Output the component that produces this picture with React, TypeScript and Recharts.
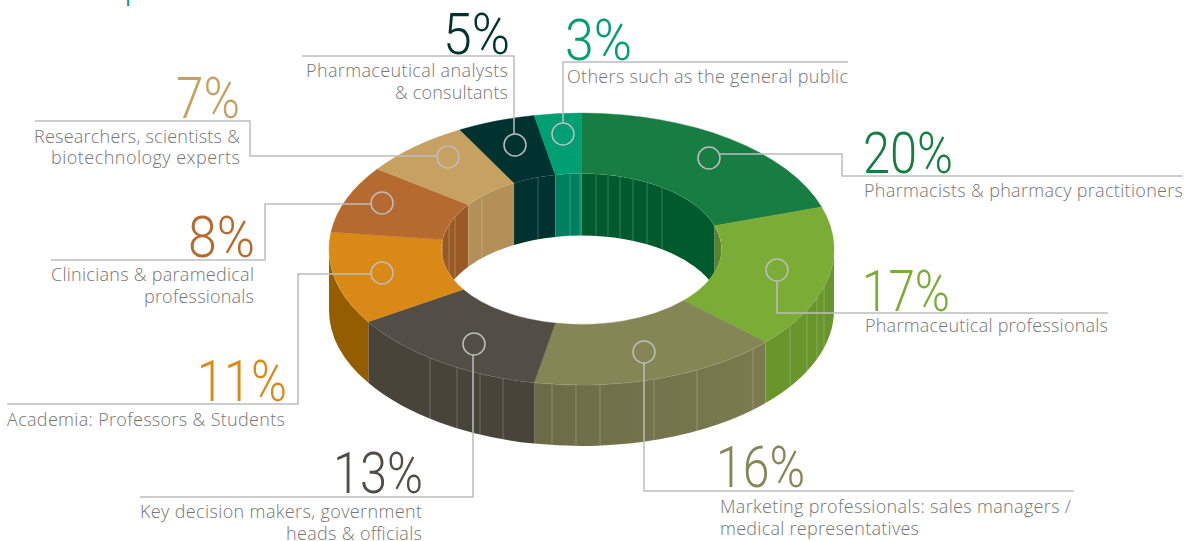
import React from 'react';
import { PieChart, Pie } from 'recharts';

const shares = [20, 17, 16, 13, 11, 8, 7, 5, 3];
const audience = [
  ['Pharmacists & pharmacy practitioners'],
  ['Pharmaceutical professionals'],
  ['Marketing professionals: sales managers /', 'medical representatives'],
  ['Key decision makers, government', 'heads & officials'],
  ['Academia: Professors & Students'],
  ['Clinicians & paramedical', 'professionals'],
  ['Researchers, scientists &', 'biotechnology experts'],
  ['Pharmaceutical analysts', '& consultants'],
  ['Others such as the general public'],
];

const topColors = ['#177d42', '#7bac36', '#858656', '#524d45', '#d98915', '#b56a2f', '#c6a162', '#00332f', '#009e73'];
const outerWallColors = ['#177d42', '#68952c', 'url(#oliveWall)', '#48443a', '#945e00', '#945e00', '#c6a162', '#00332f', '#009e73'];
const innerWallColors = ['#005b2c', '#5a8229', '#77784d', '#48443a', '#8f5c20', '#9a5a25', '#b29058', '#00332f', '#00805e'];

// seams on the extruded walls, by screen x
const outerSeams = [430, 457, 480, 503, 552, 576, 600, 654, 697, 753, 790, 807, 817, 824];
const innerSeams = [449, 455, 482, 538, 570, 580, 596, 608, 620, 633, 647, 662];

const W = 1186;
const H = 541;
const CX = 581.5;
const CY = 249;
const R_OUT = 252.5;
const R_IN = 140;
const SQUASH = 0.5386;
const DEPTH = 61;
const LEADER = '#bdbdbd';

const rows = shares.map((value, i) => ({ name: audience[i][0], value, i }));

// label layout: percent [x, baseline, width], leader path, marker, text lines [x, baseline, width, anchor]
const callouts = [
  { pct: [863, 173, 90], leader: '720,154 842,154 842,176 1183,176', dot: [709, 158], text: [[864, 197, 319, 'start']] },
  { pct: [862, 311, 88], leader: '777,281 777,313 1108,313', dot: [777, 270], text: [[865, 332, 243, 'start']] },
  { pct: [716, 487, 89], leader: '644,363 644,491 1074,491', dot: [644, 352], text: [[720, 513, 351, 'start'], [720, 535, 199, 'start']] },
  { pct: [333, 493, 90], leader: '473,355 473,497 140,497', dot: [474, 344], text: [[422, 518, 282, 'end'], [422, 540, 136, 'end']] },
  { pct: [197, 401, 90], leader: '371,274 298,274 298,404 7,404', dot: [382, 273], text: [[7, 426, 278, 'start']] },
  { pct: [188, 257, 67], leader: '371,204 265,204 265,260 51,260', dot: [382, 203], text: [[254, 281, 203, 'end'], [254, 303, 110, 'end']] },
  { pct: [176, 118, 64], leader: '437,156 250,156 250,121 35,121', dot: [448, 157], text: [[240, 143, 206, 'end'], [240, 164, 189, 'end']] },
  { pct: [443, 54, 67], leader: '514,134 514,56 302,56', dot: [515, 145], text: [[508, 77, 202, 'end'], [508, 99, 113, 'end']] },
  { pct: [565, 60, 67], leader: '563,123 563,62 848,62', dot: [563, 134], text: [[848, 83, 281, 'end']] },
];

const rad = (deg: number) => (deg * Math.PI) / 180;
const pt = (cx: number, cy: number, r: number, deg: number, dy = 0) => {
  const x = cx + r * Math.cos(rad(deg));
  const y = cy - r * SQUASH * Math.sin(rad(deg)) + dy;
  return `${x} ${y}`;
};

// upper face of a slice, the radii squashed into an ellipse
const TopFace = (p: any) => {
  const { cx, cy, innerRadius: ri, outerRadius: ro, startAngle: a, endAngle: b, payload } = p;
  const d =
    `M${pt(cx, cy, ro, a)} A${ro} ${ro * SQUASH} 0 0 1 ${pt(cx, cy, ro, b)} ` +
    `L${pt(cx, cy, ri, b)} A${ri} ${ri * SQUASH} 0 0 0 ${pt(cx, cy, ri, a)} Z`;
  return <path d={d} fill={topColors[payload.i]} stroke={topColors[payload.i]} strokeWidth={0.4} />;
};

const band = (cx: number, cy: number, r: number, a: number, b: number, depth: number) =>
  `M${pt(cx, cy, r, a)} A${r} ${r * SQUASH} 0 0 1 ${pt(cx, cy, r, b)} ` +
  `L${pt(cx, cy, r, b, depth)} A${r} ${r * SQUASH} 0 0 0 ${pt(cx, cy, r, a, depth)} Z`;

const seamAngle = (cx: number, r: number, x: number, front: boolean) => {
  const t = (Math.acos((x - cx) / r) * 180) / Math.PI; // 0..180
  return front ? -t : t;
};

// outer wall, only the part of the slice that faces the viewer
const OuterWall = (p: any) => {
  const { cx, cy, outerRadius: ro, startAngle, endAngle, payload } = p;
  const a = Math.min(startAngle, 0);
  const b = Math.max(endAngle, -180);
  if (a <= b) return <g />;
  const seams = outerSeams.filter((x) => {
    const t = seamAngle(cx, ro, x, true);
    return t < a && t > b;
  });
  return (
    <g>
      <path d={band(cx, cy, ro, a, b, DEPTH)} fill={outerWallColors[payload.i]} />
      {seams.map((x) => {
        const t = seamAngle(cx, ro, x, true);
        const y = cy - ro * SQUASH * Math.sin(rad(t));
        return <line key={x} x1={x} x2={x} y1={y} y2={y + DEPTH} stroke="#fff" strokeOpacity={0.22} />;
      })}
      <path d={`M${pt(cx, cy, ro, a)} A${ro} ${ro * SQUASH} 0 0 1 ${pt(cx, cy, ro, b)}`} fill="none" stroke="#fff" strokeOpacity={0.35} strokeWidth={0.8} />
    </g>
  );
};

// inner wall of the hole, the part behind it
const InnerWall = (p: any) => {
  const { cx, cy, innerRadius: ri, startAngle, endAngle, payload } = p;
  const spans = [
    [Math.min(startAngle, 180), Math.max(endAngle, 0)],
    [Math.min(startAngle, -180), Math.max(endAngle, -360)],
  ].filter(([a, b]) => a > b);
  if (!spans.length) return <g />;
  const depth = DEPTH + 1;
  return (
    <g clipPath="url(#holeClip)">
      {spans.map(([a, b]) => {
        const seams = innerSeams.filter((x) => {
          let t = seamAngle(cx, ri, x, false);
          if (a <= -180) t -= 360;
          return t < a && t > b;
        });
        return (
          <g key={a}>
            <path d={band(cx, cy, ri, a, b, depth)} fill={innerWallColors[payload.i]} />
            {seams.map((x) => {
              const t = seamAngle(cx, ri, x, false);
              const y = cy - ri * SQUASH * Math.sin(rad(t));
              return <line key={x} x1={x} x2={x} y1={y} y2={y + depth} stroke="#fff" strokeOpacity={0.22} />;
            })}
          </g>
        );
      })}
    </g>
  );
};

const bodyFont = '"Open Sans", sans-serif';
const pctFont = 'Roboto, sans-serif';

// percent, text and leader of one slice, drawn as the slice's pie label so it sits above the faces
const Callout = (p: any) => {
  const i = p.i ?? p.payload?.i ?? p.index;
  const c = callouts[i];
  return (
    <g>
      <polyline points={c.leader} fill="none" stroke={LEADER} strokeWidth={1.5} />
      <circle cx={c.dot[0]} cy={c.dot[1]} r={11} fill="none" stroke={LEADER} strokeWidth={1.5} />
      <text
        x={c.pct[0]}
        y={c.pct[1]}
        textLength={c.pct[2]}
        lengthAdjust="spacingAndGlyphs"
        fontFamily={pctFont}
        fontWeight={300}
        fontSize={58}
        fill={topColors[i]}
      >
        {`${shares[i]}%`}
      </text>
      {audience[i].map((line, j) => (
        <text
          key={j}
          x={c.text[j][0] as number}
          y={c.text[j][1] as number}
          textLength={c.text[j][2] as number}
          textAnchor={c.text[j][3] as any}
          fontFamily={bodyFont}
          fontWeight={300}
          fontSize={18}
          fill="#757575"
        >
          {line}
        </text>
      ))}
    </g>
  );
};

const pieBase = {
  data: rows,
  dataKey: 'value',
  nameKey: 'name',
  cx: CX,
  cy: CY,
  innerRadius: R_IN,
  outerRadius: R_OUT,
  startAngle: 90,
  endAngle: -270,
  paddingAngle: 0,
  stroke: 'none',
  labelLine: false,
  isAnimationActive: false,
};

export default function App() {
  return (
    <div style={{ position: 'absolute', left: 0, top: 0, width: W, height: H, background: '#fff' }}>
      <PieChart width={W} height={H} margin={{ top: 0, right: 0, bottom: 0, left: 0 }}>
        <defs>
          <clipPath id="holeClip">
            <ellipse cx={CX} cy={CY} rx={R_IN} ry={R_IN * SQUASH} />
          </clipPath>
          <linearGradient id="oliveWall" x1="0" x2="1" y1="0" y2="0">
            <stop offset="0" stopColor="#6b6c47" />
            <stop offset="1" stopColor="#7b7b4f" />
          </linearGradient>
        </defs>
        <text x={125} y={0} fontFamily={bodyFont} fontSize={24} fill="#009e73">p</text>
        <Pie {...pieBase} label={false} shape={InnerWall} />
        <Pie {...pieBase} label={false} shape={OuterWall} />
        <Pie {...pieBase} label={Callout} shape={TopFace} />
      </PieChart>
    </div>
  );
}
